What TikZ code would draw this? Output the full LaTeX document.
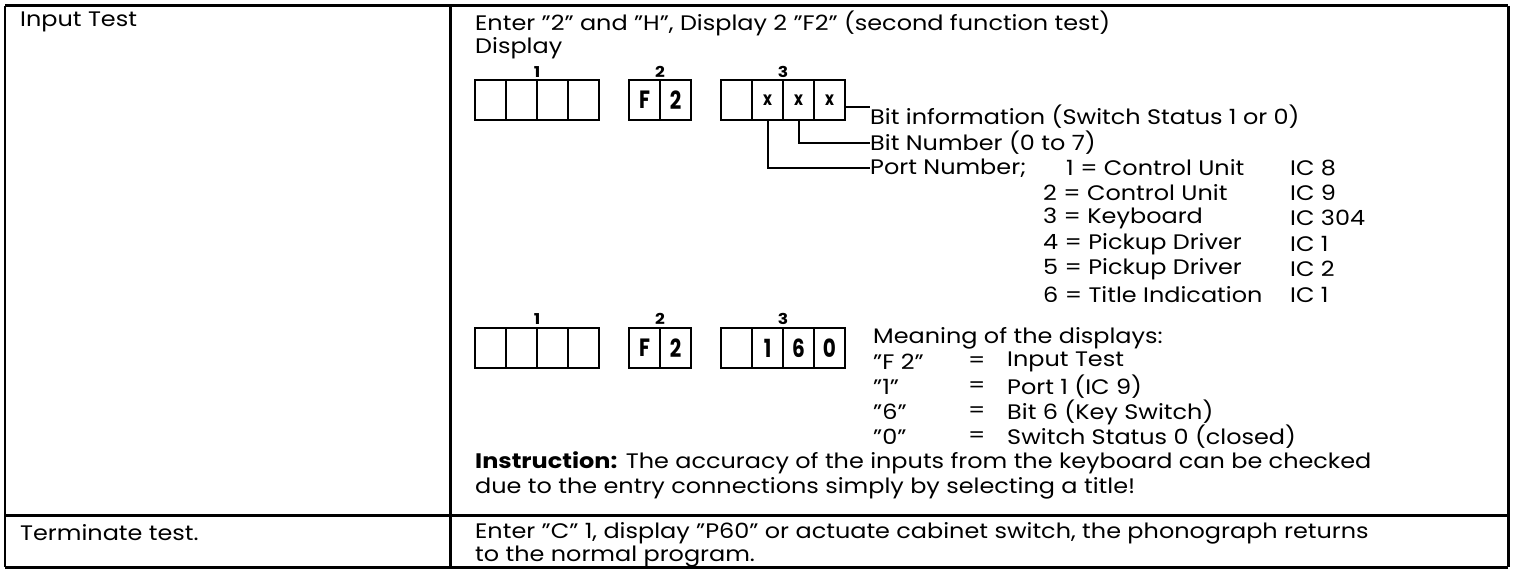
\documentclass[tikz,border=0pt]{standalone}
\usepackage{fontspec}
\setmainfont{Poppins}[FakeStretch=1.14]
\newfontfamily\cellfam{Poppins}[FakeStretch=0.8]
\newcommand\txtfont{\fontsize{21}{25}\selectfont}
\newcommand\lblfont{\fontsize{15}{15}\selectfont\bfseries}
\newcommand\cellfont{\cellfam\fontsize{25}{25}\selectfont\bfseries}
\tikzset{
 txt/.style={anchor=west, inner sep=0pt, font=\txtfont},
 lbl/.style={inner sep=0pt, font=\lblfont},
 cell/.style={draw, line width=2.4pt, minimum width=31pt, minimum height=40pt, inner sep=0pt, font=\cellfont},
 tbl/.style={line width=3pt},
 lead/.style={line width=2pt},
}
\begin{document}
\begin{tikzpicture}[x=1pt,y=-1pt]
\useasboundingbox (0,0) rectangle (1520,569);
\fill[white] (0,0) rectangle (1520,569);
% table rules
\draw[tbl] (5,6) -- (1508,6);
\draw[line width=2pt] (5,6) -- (5,567);
\draw[tbl] (1508,6) -- (1508,567);
\draw[tbl] (450,6) -- (450,567);
\draw[tbl] (5,515) -- (1508,515);
\draw[tbl] (5,567) -- (1508,567);
% left column
\node[txt] (inputtest) at (20,22) {Input Test};
\node[txt] (term) at (20,533) {Terminate test.};
% right column, row 1
\node[txt] (enter1) at (475,23) {Enter "2" and "H", Display 2 "F2" (second function test)};
\node[txt] (display) at (475,48) {Display};
% display row 1
\node[lbl] (la1) at (537,72) {1};
\node[lbl] (la2) at (660,72) {2};
\node[lbl] (la3) at (783,72) {3};
\node[cell] (a11) at (490.5,100) {};
\node[cell] (a12) at (521.5,100) {};
\node[cell] (a13) at (552.5,100) {};
\node[cell] (a14) at (583.5,100) {};
\node[cell] (a21) at (644.5,100) {F};
\node[cell] (a22) at (675.5,100) {2};
\node[cell] (c31) at (736.5,100) {};
\node[cell, font=\cellfam\fontsize{19}{19}\selectfont\bfseries] (c32) at (767.5,100) {x};
\node[cell, font=\cellfam\fontsize{19}{19}\selectfont\bfseries] (c33) at (798.5,100) {x};
\node[cell, font=\cellfam\fontsize{19}{19}\selectfont\bfseries] (c34) at (829.5,100) {x};
% explanation texts
\node[txt] (bitinfo) at (870,117) {Bit information (Switch Status 1 or 0)};
\node[txt] (bitnum) at (870,143) {Bit Number (0 to 7)};
\node[txt] (portnum) at (870,168) {Port Number;};
\node[txt] (p1) at (1066,168) {1 = Control Unit};
\node[txt] (i1) at (1290,168) {IC 8};
\node[txt] (p2) at (1043,193) {2 = Control Unit};
\node[txt] (i2) at (1290,193) {IC 9};
\node[txt] (p3) at (1043,218) {3 = Keyboard};
\node[txt] (i3) at (1290,218) {IC 304};
\node[txt] (p4) at (1043,244) {4 = Pickup Driver};
\node[txt] (i4) at (1290,244) {IC 1};
\node[txt] (p5) at (1043,269) {5 = Pickup Driver};
\node[txt] (i5) at (1290,269) {IC 2};
\node[txt] (p6) at (1043,295) {6 = Title Indication};
\node[txt] (i6) at (1290,295) {IC 1};
% leaders
\coordinate (bily) at (0,107);
\draw[lead] (c34.east |- bily) -- (bitinfo.west |- bily);
\draw[lead] (c33.south) |- (bitnum.west);
\draw[lead] (c32.south) |- (portnum.west);
% display row 2
\node[lbl] (lb1) at (537,319) {1};
\node[lbl] (lb2) at (660,319) {2};
\node[lbl] (lb3) at (783,319) {3};
\node[cell] (b11) at (490.5,348) {};
\node[cell] (b12) at (521.5,348) {};
\node[cell] (b13) at (552.5,348) {};
\node[cell] (b14) at (583.5,348) {};
\node[cell] (b21) at (644.5,348) {F};
\node[cell] (b22) at (675.5,348) {2};
\node[cell] (b31) at (736.5,348) {};
\node[cell] (b32) at (767.5,348) {1};
\node[cell] (b33) at (798.5,348) {6};
\node[cell] (b34) at (829.5,348) {0};
% meaning
\node[txt] (meaning) at (873,338) {Meaning of the displays:};
\node[txt] (mq1) at (873,362) {"F 2"};
\node[txt] (me1) at (968,362) {=};
\node[txt] (mv1) at (1007,362) {Input Test};
\node[txt] (mq2) at (873,387) {"1"};
\node[txt] (me2) at (968,387) {=};
\node[txt] (mv2) at (1007,387) {Port 1 (IC 9)};
\node[txt] (mq3) at (873,412) {"6"};
\node[txt] (me3) at (968,412) {=};
\node[txt] (mv3) at (1007,412) {Bit 6 (Key Switch)};
\node[txt] (mq4) at (873,437) {"0"};
\node[txt] (me4) at (968,437) {=};
\node[txt] (mv4) at (1007,437) {Switch Status 0 (closed)};
% instruction
\node[txt] (instr1) at (475,463) {\textbf{Instruction:} The accuracy of the inputs from the keyboard can be checked};
\node[txt] (instr2) at (475,488) {due to the entry connections simply by selecting a title!};
% row 2
\node[txt] (enter2) at (475,533) {Enter "C" 1, display "P60" or actuate cabinet switch, the phonograph returns};
\node[txt] (enter3) at (475,557) {to the normal program.};
\end{tikzpicture}
\end{document}
